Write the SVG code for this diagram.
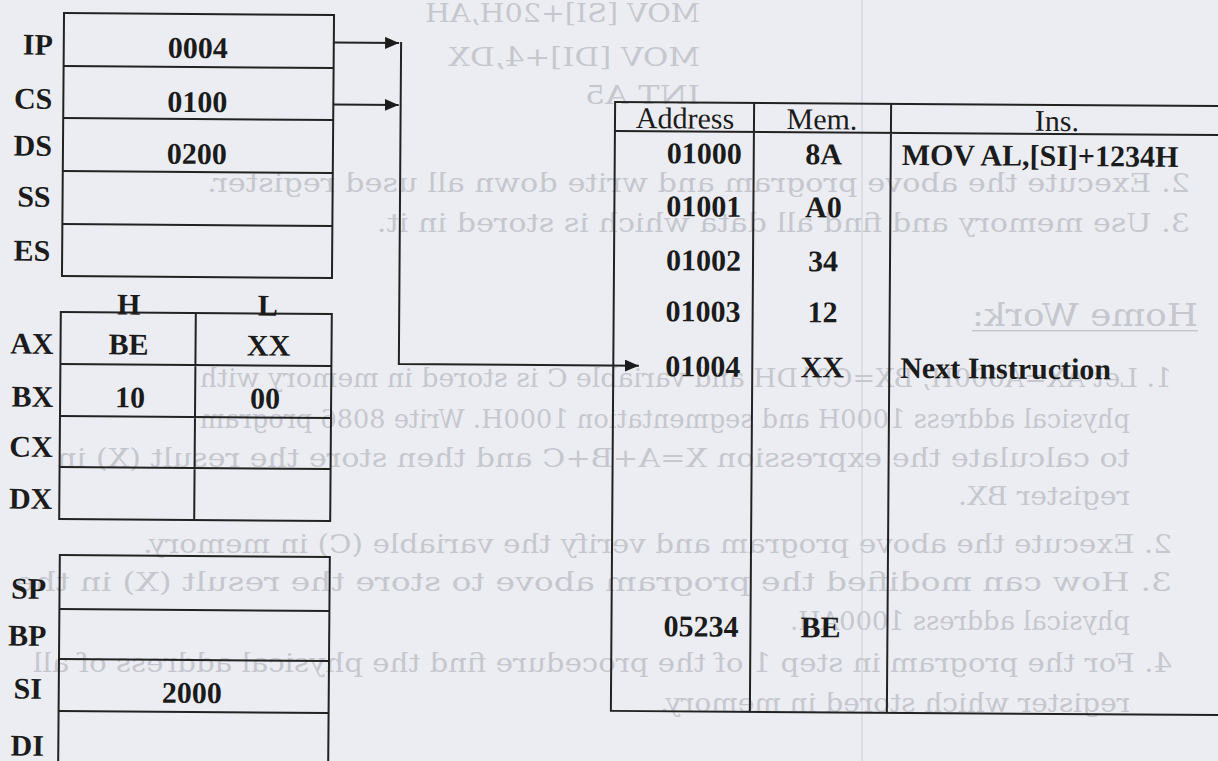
<svg xmlns="http://www.w3.org/2000/svg" width="1218" height="761" viewBox="0 0 1218 761">
<style>
.bg{fill:#ecedf2}
.ghost{font-family:'DejaVu Serif','Liberation Serif',serif;fill:#c6c7ce;font-size:26px}
.b{font-family:'Liberation Serif','Times New Roman',serif;font-weight:bold;font-size:30px;fill:#1b1b1b}
.r{font-family:'Liberation Serif','Times New Roman',serif;font-size:30px;fill:#1b1b1b}
.ln{stroke:#222;stroke-width:2;fill:none}
.m{text-anchor:middle}
.e{text-anchor:end}
.faint{stroke:#d2d3da;stroke-width:1.2}
</style>
<defs>
<marker id="ah" markerUnits="userSpaceOnUse" markerWidth="14" markerHeight="12" viewBox="0 0 14 12" refX="14" refY="6" orient="auto">
<path d="M0,0 L14,6 L0,12 z" fill="#1b1b1b"/>
</marker>
</defs>
<rect class="bg" width="1218" height="761"/>
<line class="faint" x1="862" y1="0" x2="862" y2="761"/>
<g id="bleed" transform="scale(-1,1)">
<text class="ghost" x="-700" y="22" textLength="275" lengthAdjust="spacingAndGlyphs">MOV [SI]+20H,AH</text>
<text class="ghost" x="-700" y="66" textLength="252" lengthAdjust="spacingAndGlyphs">MOV [DI]+4,DX</text>
<text class="ghost" x="-700" y="104" textLength="115" lengthAdjust="spacingAndGlyphs">INT A5</text>
<text class="ghost" x="-1190" y="192" textLength="983" lengthAdjust="spacingAndGlyphs">2.  Execute the above program and write down all used register.</text>
<text class="ghost" x="-1190" y="232" textLength="813" lengthAdjust="spacingAndGlyphs">3.  Use memory and find all data which is stored in it.</text>
<text class="ghost" x="-1198" y="326" textLength="226" lengthAdjust="spacingAndGlyphs" style="font-size:32px">Home Work:</text>
<rect x="-1198" y="330" width="226" height="1.5" fill="#c6c7ce"/>
<text class="ghost" x="-1172" y="387" textLength="972" lengthAdjust="spacingAndGlyphs">1.  Let AX=A000H, BX=C01DH and variable C is stored in memory with</text>
<text class="ghost" x="-1130" y="428" textLength="930" lengthAdjust="spacingAndGlyphs">physical address 1000H and segmentation 1000H. Write 8086 program</text>
<text class="ghost" x="-1130" y="467" textLength="1073" lengthAdjust="spacingAndGlyphs">to calculate the expression X=A+B+C and then store the result (X) in</text>
<text class="ghost" x="-1130" y="505" textLength="172" lengthAdjust="spacingAndGlyphs">register BX.</text>
<text class="ghost" x="-1172" y="553" textLength="1029" lengthAdjust="spacingAndGlyphs">2.  Execute the above program and verify the variable (C) in memory.</text>
<text class="ghost" x="-1172" y="591" textLength="1157" lengthAdjust="spacingAndGlyphs">3.  How can modified the program above to store the result (X) in the</text>
<text class="ghost" x="-1130" y="630" textLength="340" lengthAdjust="spacingAndGlyphs">physical address 1000AH.</text>
<text class="ghost" x="-1172" y="672" textLength="1139" lengthAdjust="spacingAndGlyphs">4.  For the program in step 1 of the procedure find the physical address of all</text>
<text class="ghost" x="-1130" y="712" textLength="470" lengthAdjust="spacingAndGlyphs">register which stored in memory.</text>
</g>
<g id="segment-registers" transform="rotate(0.45 198 145)">
<rect class="ln" x="63" y="14" width="270" height="263"/>
<path class="ln" d="M63,67 H333 M63,119 H333 M63,172 H333 M63,225 H333"/>
<text class="b e" x="52" y="56">IP</text>
<text class="b e" x="52" y="110">CS</text>
<text class="b e" x="52" y="157">DS</text>
<text class="b e" x="51" y="208">SS</text>
<text class="b e" x="51" y="262">ES</text>
<text class="b m" x="197" y="58">0004</text>
<text class="b m" x="197" y="112">0100</text>
<text class="b m" x="197" y="164">0200</text>
</g>
<g id="general-registers" transform="rotate(0.45 196 416)">
<rect class="ln" x="60" y="313" width="271" height="207"/>
<path class="ln" d="M60,365 H331 M60,417 H331 M60,468 H331 M195,313 V520"/>
<text class="b m" x="128" y="315">H</text>
<text class="b m" x="267" y="315">L</text>
<text class="b e" x="53" y="355">AX</text>
<text class="b e" x="53" y="408">BX</text>
<text class="b e" x="53" y="458">CX</text>
<text class="b e" x="53" y="510">DX</text>
<text class="b m" x="128" y="355">BE</text>
<text class="b m" x="268" y="355">XX</text>
<text class="b m" x="130" y="408">10</text>
<text class="b m" x="265" y="408">00</text>
</g>
<g id="pointer-registers" transform="rotate(0.45 194 660)">
<rect class="ln" x="59" y="556" width="270" height="225"/>
<path class="ln" d="M59,610 H329 M59,660 H329 M59,712 H329"/>
<text class="b m" x="28" y="600">SP</text>
<text class="b m" x="27" y="647">BP</text>
<text class="b m" x="28" y="700">SI</text>
<text class="b m" x="28" y="757">DI</text>
<text class="b m" x="192" y="703">2000</text>
</g>
<g id="memory-table" transform="rotate(0.4 916 408)">
<rect class="ln" x="613" y="104" width="630" height="609"/>
<path class="ln" d="M613,133 H1230 M752,104 V713 M889,104 V713"/>
<text class="r m" x="683" y="130">Address</text>
<text class="r m" x="820" y="130">Mem.</text>
<text class="r m" x="1055" y="130">Ins.</text>
<text class="b e" x="740" y="165">01000</text>
<text class="b e" x="740" y="218">01001</text>
<text class="b e" x="740" y="272">01002</text>
<text class="b e" x="740" y="323">01003</text>
<text class="b e" x="740" y="378">01004</text>
<text class="b e" x="740" y="638">05234</text>
<text class="b m" x="822" y="165">8A</text>
<text class="b m" x="822" y="218">A0</text>
<text class="b m" x="822" y="272">34</text>
<text class="b m" x="822" y="323">12</text>
<text class="b m" x="822" y="378">XX</text>
<text class="b m" x="822" y="638">BE</text>
<text class="b" x="900" y="165">MOV AL,[SI]+1234H</text>
<text class="b" x="900" y="378">Next Instruction</text>
</g>
<g id="connectors" transform="rotate(0.4 400 200)">
<path class="ln" d="M333,43 H398" marker-end="url(#ah)"/>
<path class="ln" d="M333,105 H398" marker-end="url(#ah)"/>
<path class="ln" d="M400,42 V364 H640" marker-end="url(#ah)"/>
</g>
</svg>
